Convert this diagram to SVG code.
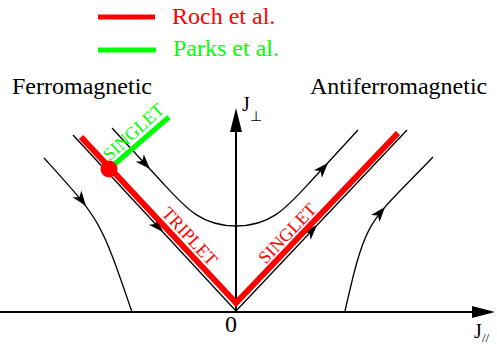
<svg xmlns="http://www.w3.org/2000/svg" width="497" height="344" viewBox="0 0 497 344">
<style>
text{font-family:"Liberation Serif","Times New Roman",serif;}
.big{font-size:24px;}
.lab{font-size:18px;}
.thin{fill:none;stroke:#000;stroke-width:1.3;}
.axis{fill:none;stroke:#000;stroke-width:2;}
.red{fill:none;stroke:#ff0000;stroke-width:6;stroke-linejoin:miter;}
.green{fill:none;stroke:#00ff00;stroke-width:5;}
</style>
<defs>
<path id="ah" d="M0,0 L-15,-5.5 L-11,0 L-15,5.5 Z" fill="#000"/>
</defs>
<rect width="497" height="344" fill="#fff"/>

<g id="legend">
<line x1="98" y1="17" x2="155" y2="17" stroke="#ff0000" stroke-width="5"/>
<text class="big" x="172" y="24" fill="#ff0000">Roch et al.</text>
<line x1="98" y1="50" x2="156" y2="50" stroke="#00ff00" stroke-width="5"/>
<text class="big" x="173" y="56" fill="#00ff00">Parks et al.</text>
</g>

<g id="titles">
<text class="big" x="12" y="94">Ferromagnetic</text>
<text class="big" x="310" y="94">Antiferromagnetic</text>
</g>

<g id="axes">
<line class="axis" x1="0" y1="312" x2="474" y2="312"/>
<polygon points="495,312 472,306 472,318" fill="#000"/>
<line class="axis" x1="236" y1="312" x2="236" y2="130"/>
<polygon points="236,108 230,132 242,132" fill="#000"/>
<text class="big" x="231" y="332" text-anchor="middle">0</text>
<text x="242" y="111" font-size="20">J<tspan x="250" y="121" font-size="14">⊥</tspan></text>
<text x="474" y="338" font-size="20">J<tspan x="482" y="342" font-size="13">//</tspan></text>
</g>

<g id="connectors">
<polyline class="thin" points="73,135 236,311 407,130"/>
<path class="thin" d="M112,128 L160,180 C185,207 200,226 236,226 C272,226 287,207 312,180 L358,130"/>
<path class="thin" d="M44,158 C100,220 100,218 132,312"/>
<path class="thin" d="M345,311 C367,214 368,225 433,157"/>
<use href="#ah" transform="translate(163,232) rotate(47.2)"/>
<use href="#ah" transform="translate(317,225) rotate(-46.6)"/>
<use href="#ah" transform="translate(150,169) rotate(47)"/>
<use href="#ah" transform="translate(328,163) rotate(-47.4)"/>
<use href="#ah" transform="translate(86,206) rotate(53)"/>
<use href="#ah" transform="translate(385,207) rotate(-50)"/>
</g>

<g id="roch-line">
<polyline class="red" points="81,137 236,303 398,133"/>
<text class="lab" fill="#ff0000" text-anchor="middle" transform="translate(185.3,240.4) rotate(47)">TRIPLET</text>
<text class="lab" fill="#ff0000" text-anchor="middle" transform="translate(291.7,237.5) rotate(-46.4)">SINGLET</text>
</g>

<g id="parks-line">
<line class="green" x1="109" y1="169" x2="169" y2="117"/>
<text class="lab" fill="#00ff00" text-anchor="middle" transform="translate(137.4,136.3) rotate(-42)">SINGLET</text>
</g>

<g id="critical-point">
<circle cx="109" cy="169" r="8.5" fill="#ff0000"/>
</g>
</svg>
